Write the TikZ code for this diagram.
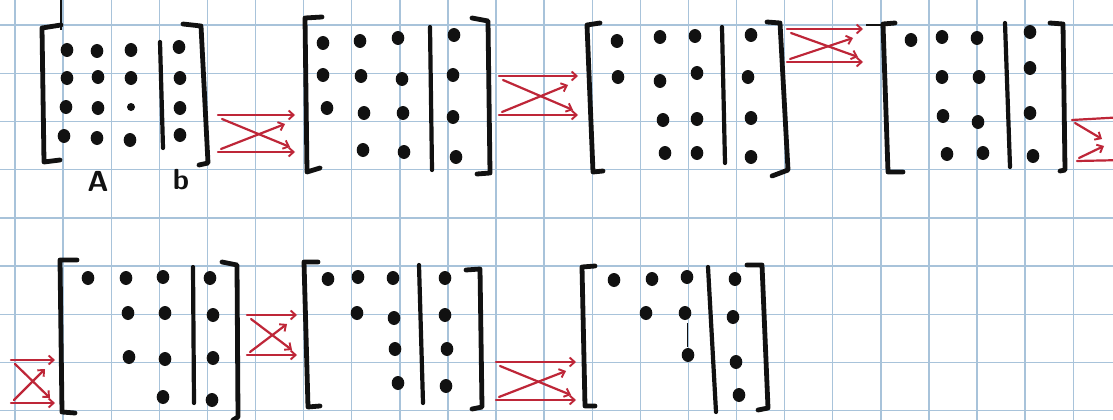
\documentclass[tikz,border=0pt]{standalone}
\usetikzlibrary{arrows.meta,calc}
\definecolor{ink}{HTML}{111111}
\definecolor{pen}{HTML}{BE2638}
\definecolor{gridblue}{HTML}{A8C3DA}
\newcommand\dt[2]{\fill[ink] (#1,#2) ellipse (6.3pt and 7pt);}
\newcommand\swapicon[5]{%
 \coordinate (#1-tl) at (#2,#3); \coordinate (#1-tr) at (#4,#3);
 \coordinate (#1-bl) at (#2,#5); \coordinate (#1-br) at (#4,#5);
 \draw[swaparrow] (#1-tl) -- (#1-tr);
 \draw[swaparrow] (#1-bl) -- (#1-br);
 \draw[swaparrow] ($(#1-tl)+(4,4)$) -- ($(#1-br)+(-5,-5)$);
 \draw[swaparrow] ($(#1-bl)+(3,-3)$) -- ($(#1-tr)+(-10,9)$);
}
\begin{document}
\begin{tikzpicture}[x=1pt,y=-1pt,
  bracket/.style={ink,line width=4.8pt,line cap=round,line join=round},
  divider/.style={ink,line width=4.2pt,line cap=round},
  swaparrow/.style={pen,line width=2.2pt,line cap=round,-{Straight Barb[length=5pt,width=9pt,line width=1.9pt]}},
  gridline/.style={gridblue,line width=1.4pt},
  lbl/.style={ink,font=\sffamily\bfseries\fontsize{29}{29}\selectfont,inner sep=0pt}]
\useasboundingbox (0,0) rectangle (1113,420);
\clip (0,0) rectangle (1113,420);
\fill[white] (0,0) rectangle (1113,420);
\foreach \k in {0,...,22} \draw[gridline] ({15+48.1*\k},0) -- ({15+48.1*\k},420);
\foreach \k in {0,...,8} \draw[gridline] (0,{25+48.2*\k}) -- (1113,{25+48.2*\k});

% ---------- Matrix 1 ----------
\draw[ink,line width=2.5pt] (61,0) -- (61,30);
\draw[bracket] (61,25) -- (42,28) -- (44,162) -- (60,160);
\draw[bracket] (183,24) -- (201,26) -- (208,163) -- (199,165);
\draw[divider] (160,42) -- (163,148);
\dt{67}{50}\dt{97}{51}\dt{131}{50}\dt{179}{47}
\dt{67}{78}\dt{98}{77}\dt{131}{78}\dt{180}{78}
\dt{66}{107}\dt{98}{108}\fill[ink] (131,107) ellipse (4pt and 4pt);\dt{180}{108}
\dt{64}{136}\dt{97}{138}\dt{130}{140}\dt{180}{135}
\node[lbl] (labA) at (98,181) {A};
\node[lbl] (labb) at (181,180) {b};

% ---------- Matrix 2 ----------
\draw[bracket] (322,17) -- (305,18) -- (307,172) -- (320,168);
\draw[bracket] (472,18) -- (488,21) -- (490,173) -- (477,174);
\draw[divider] (430,27) -- (432,170);
\dt{323}{43}\dt{360}{41}\dt{398}{38}\dt{454}{35}
\dt{323}{75}\dt{361}{76}\dt{402}{79}\dt{453}{75}
\dt{327}{108}\dt{364}{113}\dt{403}{113}\dt{453}{117}
\dt{363}{150}\dt{404}{152}\dt{456}{157}

% ---------- Matrix 3 ----------
\draw[bracket] (600,23) -- (587,25) -- (593,172) -- (603,171);
\draw[bracket] (767,22) -- (780,23) -- (788,170) -- (772,176);
\draw[divider] (722,27) -- (725,163);
\dt{617}{41}\dt{660}{37}\dt{695}{36}\dt{751}{35}
\dt{618}{77}\dt{660}{81}\dt{697}{73}\dt{748}{77}
\dt{663}{120}\dt{697}{119}\dt{751}{118}
\dt{665}{153}\dt{697}{153}\dt{751}{157}

% ---------- Matrix 4 ----------
\draw[ink,line width=1.5pt] (866,25) -- (882,25);
\draw[bracket] (895,23) -- (883,24) -- (888,172) -- (903,172);
\draw[bracket] (1050,23) -- (1063,24) -- (1065,170) -- (1060,171);
\draw[divider] (1005,23) -- (1010,167);
\dt{911}{40}\dt{942}{37}\dt{977}{38}\dt{1030}{32}
\dt{942}{77}\dt{979}{77}\dt{1030}{68}
\dt{943}{116}\dt{978}{122}\dt{1030}{113}
\dt{947}{154}\dt{983}{153}\dt{1033}{156}

% ---------- Matrix 5 ----------
\draw[bracket] (77,260) -- (60,260) -- (62,412) -- (75,413);
\draw[bracket] (222,262) -- (237,265) -- (238,417) -- (233,420);
\draw[divider] (193,267) -- (194,403);
\dt{88}{278}\dt{126}{278}\dt{163}{277}\dt{210}{278}
\dt{128}{313}\dt{165}{313}\dt{213}{315}
\dt{129}{357}\dt{165}{359}\dt{213}{358}
\dt{163}{397}\dt{212}{400}

% ---------- Matrix 6 ----------
\draw[bracket] (318,262) -- (304,262) -- (308,407) -- (320,406);
\draw[bracket] (466,270) -- (480,269) -- (482,407) -- (472,409);
\draw[divider] (419,265) -- (423,403);
\dt{328}{279}\dt{358}{277}\dt{393}{278}\dt{445}{278}
\dt{357}{313}\dt{394}{318}\dt{445}{315}
\dt{395}{349}\dt{447}{349}
\dt{398}{383}\dt{446}{386}

% ---------- Matrix 7 ----------
\draw[bracket] (595,266) -- (582,267) -- (585,406) -- (595,406);
\draw[bracket] (747,265) -- (762,265) -- (768,408) -- (758,410);
\draw[divider] (708,267) -- (716,412);
\dt{614}{280}\dt{652}{279}\dt{687}{277}\dt{735}{279}
\dt{646}{313}\dt{685}{313}\dt{733}{317}
\dt{688}{355}\dt{736}{362}
\dt{739}{395}
\draw[ink,line width=1pt] (687,323) -- (687,347);

% ---------- swap arrows ----------
\swapicon{s1}{218}{115}{295}{152}
\swapicon{s2}{499}{76}{578}{115}
\swapicon{s3}{787}{29}{863}{62}
\swapicon{s5}{11}{360}{55}{403}
\swapicon{s6}{247}{315}{297}{355}
\swapicon{s7}{496}{362}{576}{400}
% partial icon at right edge
\coordinate (s4-tl) at (1072,120); \coordinate (s4-tr) at (1125,117);
\coordinate (s4-bl) at (1077,161); \coordinate (s4-br) at (1125,160);
\draw[pen,line width=2.2pt,line cap=round] (s4-tl) -- (s4-tr);
\draw[pen,line width=2.2pt,line cap=round] (s4-bl) -- (s4-br);
\draw[swaparrow] ($(s4-tl)+(3,3)$) -- (1102,139);
\draw[swaparrow] ($(s4-bl)+(2,-3)$) -- (1104,146);
\end{tikzpicture}
\end{document}
